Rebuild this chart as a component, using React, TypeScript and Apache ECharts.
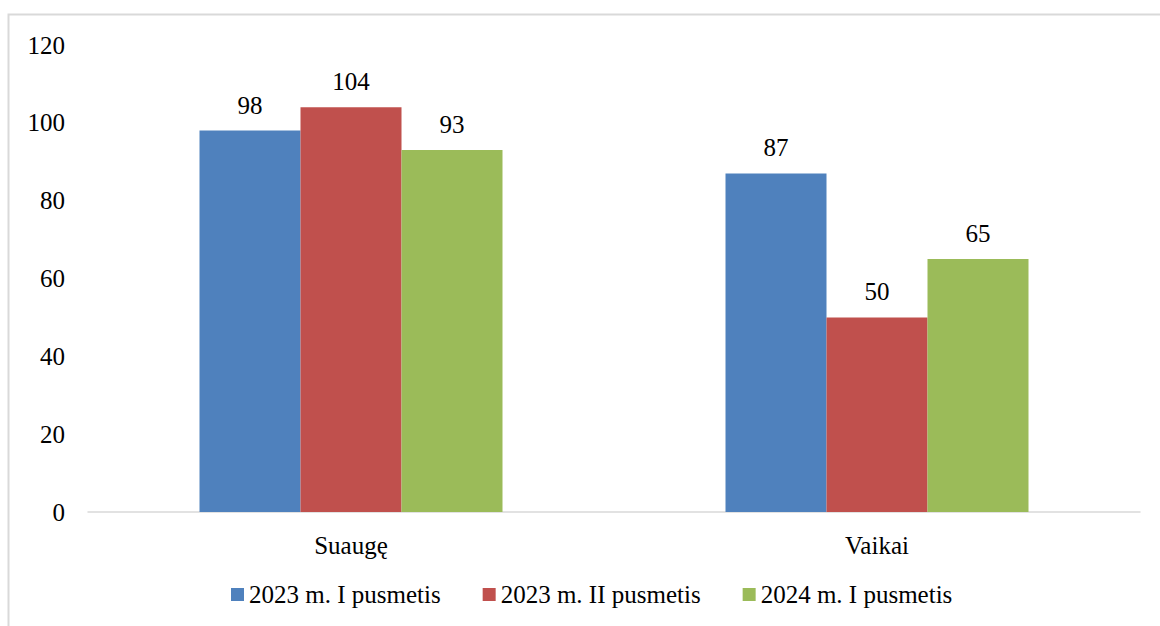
import React, { useEffect, useRef } from "react";
import * as echarts from "echarts";

const categories = ["Suaugę", "Vaikai"];
const seriesNames = ["2023 m. I pusmetis", "2023 m. II pusmetis", "2024 m. I pusmetis"];
const values2023I = [98, 87];
const values2023II = [104, 50];
const values2024I = [93, 65];
const colors = ["#4f81bd", "#c0504d", "#9bbb59"];

const FONT = "Liberation Serif";
const FS = 25;

export default function App() {
  const ref = useRef<HTMLDivElement>(null);
  useEffect(() => {
    if (!ref.current) return;
    const chart = echarts.init(ref.current, null, { renderer: "svg" });
    const data = [values2023I, values2023II, values2024I];
    chart.setOption({
      animation: false,
      backgroundColor: "#ffffff",
      textStyle: { fontFamily: FONT, color: "#000" },
      graphic: [
        {
          type: "rect",
          shape: { x: 8.5, y: 14.5, width: 1200, height: 700 },
          style: { fill: "none", stroke: "#d9d9d9", lineWidth: 2 },
          silent: true,
        },
      ],
      grid: { left: 88, right: 20, top: 45, bottom: 114, containLabel: false },
      legend: {
        top: 577,
        left: 226,
        itemWidth: 13,
        itemHeight: 13,
        itemGap: 42,
        icon: "rect",
        textStyle: { fontFamily: FONT, fontSize: FS, color: "#000" },
        data: seriesNames,
      },
      xAxis: {
        type: "category",
        data: categories,
        axisLine: { lineStyle: { color: "#d9d9d9", width: 1.5 } },
        axisTick: { show: false },
        axisLabel: { fontFamily: FONT, fontSize: FS, color: "#000", margin: 21 },
      },
      yAxis: {
        type: "value",
        min: 0,
        max: 120,
        interval: 20,
        axisLine: { show: false },
        axisTick: { show: false },
        splitLine: { show: false },
        axisLabel: { fontFamily: FONT, fontSize: FS, color: "#000", margin: 23 },
      },
      series: seriesNames.map((name, i) => ({
        name,
        type: "bar",
        data: data[i],
        barWidth: 101,
        barGap: "0%",
        itemStyle: { color: colors[i] },
        label: {
          show: true,
          position: "top",
          distance: 13,
          fontFamily: FONT,
          fontSize: FS,
          color: "#000",
        },
      })),
    });
    return () => chart.dispose();
  }, []);
  return (
    <div
      ref={ref}
      style={{ position: "fixed", left: 0, top: 0, width: 1160, height: 626 }}
    />
  );
}
